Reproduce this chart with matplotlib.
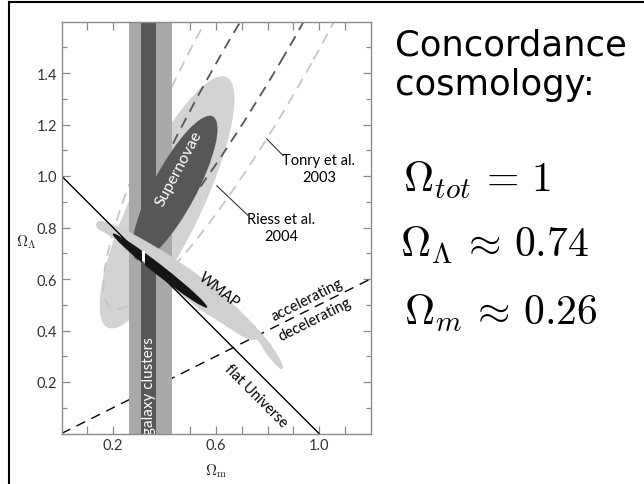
import numpy as np
import matplotlib
matplotlib.use("Agg")
import matplotlib.pyplot as plt
from matplotlib.patches import Ellipse, Polygon, Rectangle
from matplotlib.lines import Line2D

plt.rcParams['mathtext.fontset'] = 'cm'

# ---------------- data ----------------
# galaxy-cluster constraint on Omega_m (outer / inner bands)
cluster_outer = [0.263, 0.428]
cluster_inner = [0.309, 0.366]

# Supernovae confidence ellipses: centre, (full major, full minor), angle
sn_outer_center = (0.41, 0.898)
sn_outer_axes = (1.077, 0.273)
sn_outer_angle = 64.6
sn_inner_center = (0.44, 0.953)
sn_inner_axes = (0.63, 0.17)
sn_inner_angle = 62.0

# Riess et al. 2004 (dark dashed) and Tonry et al. 2003 (light dashed) contours
riess_center = (0.76, 1.50)
riess_axes = (1.90, 0.214)
riess_angle = 59.5
tonry_center = (0.787, 1.56)
tonry_axes = (2.45, 0.44)
tonry_angle = 61.0

# WMAP outer region (outline) and inner region
wmap_x = [0.133, 0.145, 0.175, 0.250, 0.300, 0.400, 0.500, 0.600, 0.680, 0.750, 0.810,
          0.845, 0.862, 0.852, 0.830, 0.795, 0.775, 0.760, 0.735, 0.700, 0.620, 0.550,
          0.450, 0.380, 0.300, 0.220, 0.170, 0.140]
wmap_y = [0.812, 0.826, 0.822, 0.790, 0.763, 0.705, 0.638, 0.562, 0.490, 0.420, 0.350,
          0.295, 0.258, 0.248, 0.268, 0.310, 0.345, 0.365, 0.362, 0.378, 0.430, 0.473,
          0.550, 0.610, 0.682, 0.745, 0.778, 0.795]
wmap_inner_center = (0.3825, 0.6325)
wmap_inner_axes = (0.465, 0.040)
wmap_inner_angle = -38.0
wmap_gap = [0.311, 0.324]

# reference lines
flat_x = [0.0, 1.0]
flat_y = [1.0, 0.0]          # Omega_m + Omega_L = 1
accel_x = [0.0, 1.2]
accel_y = [0.0, 0.6]         # Omega_L = Omega_m / 2

x_ticks = [0.1, 0.2, 0.3, 0.4, 0.5, 0.6, 0.7, 0.8, 0.9, 1.0, 1.1]
x_ticklabels = ['', '0.2', '', '', '', '0.6', '', '', '', '1.0', '']
y_major = [0.2, 0.4, 0.6, 0.8, 1.0, 1.2, 1.4]
y_minor = [0.1, 0.3, 0.5, 0.7, 0.9, 1.1, 1.3, 1.5]

# ---------------- figure ----------------
W, H = 644, 485
fig = plt.figure(figsize=(W / 100, H / 100), dpi=100)
ax = fig.add_axes([61.5 / W, 50.5 / H, 309 / W, 412 / H])
ax.set_xlim(0, 1.2)
ax.set_ylim(0, 1.6)

lab_font = ['Lato', 'DejaVu Sans']

LIGHT = '#d3d3d3'
BAND_L = '#a9a9a9'
DARK = '#575757'

# Supernovae outer (light)
ax.add_patch(Ellipse(sn_outer_center, *sn_outer_axes, angle=sn_outer_angle,
                     facecolor=LIGHT, edgecolor='none', zorder=1))
# Tonry contour (light dashed)
ax.add_patch(Ellipse(tonry_center, *tonry_axes, angle=tonry_angle, facecolor='none',
                     edgecolor='#c6c6c6', lw=1.3, linestyle=(0, (6, 4)), zorder=1.5))
# Riess contour (dark dashed)
ax.add_patch(Ellipse(riess_center, *riess_axes, angle=riess_angle, facecolor='none',
                     edgecolor='#555555', lw=1.3, linestyle=(0, (6, 4)), zorder=2))
# galaxy cluster bands
ax.axvspan(*cluster_outer, color=BAND_L, lw=0, zorder=3)
ax.axvspan(*cluster_inner, color=DARK, lw=0, zorder=3.1)
# Supernovae inner (dark)
ax.add_patch(Ellipse(sn_inner_center, *sn_inner_axes, angle=sn_inner_angle,
                     facecolor=DARK, edgecolor='none', zorder=4))
# WMAP outer
ax.add_patch(Polygon(np.column_stack([wmap_x, wmap_y]), closed=True,
                     facecolor='#d0d0d0', edgecolor='none', zorder=5))
# reference lines
ax.plot(flat_x, flat_y, color='black', lw=1.0, zorder=6)
ax.plot(accel_x, accel_y, color='black', lw=1.0, linestyle=(0, (7, 5)), zorder=2.5)
# WMAP inner (two pieces separated by a small gap)
for clip in [Rectangle((0, 0), wmap_gap[0], 1.6, transform=ax.transData),
             Rectangle((wmap_gap[1], 0), 1.2 - wmap_gap[1], 1.6, transform=ax.transData)]:
    e = Ellipse(wmap_inner_center, *wmap_inner_axes, angle=wmap_inner_angle,
                facecolor='#151515', edgecolor='none', zorder=7)
    ax.add_patch(e)
    e.set_clip_path(clip)
ax.add_patch(Rectangle((wmap_gap[0], 0.668), wmap_gap[1] - wmap_gap[0], 0.04,
                       facecolor='white', edgecolor='none', zorder=7.5))

# labels inside the plot
ax.text(0.455, 1.03, 'Supernovae', rotation=62, color='white', fontsize=11.5,
        ha='center', va='center', family=lab_font, zorder=8)
ax.text(0.338, 0.19, 'galaxy clusters', rotation=90, color='white', fontsize=11,
        ha='center', va='center', family=lab_font, zorder=8)
ax.text(0.61, 0.56, 'WMAP', rotation=-38, color='black', fontsize=10.5,
        ha='center', va='center', family=lab_font, zorder=8)
ax.text(0.955, 0.52, 'accelerating', rotation=26.6, color='black', fontsize=10.5,
        ha='center', va='center', family=lab_font, zorder=8, rotation_mode='anchor')
ax.text(0.985, 0.445, 'decelerating', rotation=26.6, color='black', fontsize=10.5,
        ha='center', va='center', family=lab_font, zorder=8, rotation_mode='anchor')
ax.text(0.755, 0.15, 'flat Universe', rotation=-45, color='black', fontsize=10.5,
        ha='center', va='center', family=lab_font, zorder=8, rotation_mode='anchor')
ax.text(1.0, 1.03, 'Tonry et al.\n2003', color='black', fontsize=10.5, ha='center',
        va='center', family=lab_font, linespacing=1.25, zorder=8)
ax.text(0.852, 0.80, 'Riess et al.\n2004', color='black', fontsize=10.5, ha='center',
        va='center', family=lab_font, linespacing=1.25, zorder=8)
ax.plot([0.797, 0.861], [1.144, 1.079], color='#333333', lw=0.8, zorder=8)
ax.plot([0.603, 0.725], [0.962, 0.846], color='#333333', lw=0.8, zorder=8)

# axes styling
for s in ax.spines.values():
    s.set_color('#8a8a8a')
    s.set_linewidth(1.0)
    s.set_zorder(9)
ax.set_xticks(x_ticks)
ax.set_xticklabels(x_ticklabels)
ax.set_yticks(y_major)
ax.set_yticklabels([f'{v:.1f}' for v in y_major])
ax.set_yticks(y_minor, minor=True)
ax.tick_params(which='major', direction='in', length=5.5, width=0.9, color='#8a8a8a',
               top=True, right=True, labelsize=10.5, labelcolor='#333333', pad=3)
ax.tick_params(which='minor', direction='in', length=3.5, width=0.9, color='#8a8a8a',
               top=False, right=True, left=True)
ax.tick_params(axis='y', which='major', length=6)
for lbl in ax.get_xticklabels() + ax.get_yticklabels():
    lbl.set_family(lab_font)
ax.set_xlabel(r'$\Omega_\mathrm{m}$', fontsize=11, color='#222222', labelpad=7)
ax.text(-0.135, 0.745, r'$\Omega_\Lambda$', fontsize=11, color='#222222',
        ha='center', va='center', transform=ax.transData, clip_on=False)

# right-hand text
fig.text(395 / W, 1 - 56 / H, 'Concordance', fontsize=25.5, family='DejaVu Sans',
         color='black', va='baseline', ha='left')
fig.text(395 / W, 1 - 95 / H, 'cosmology:', fontsize=25.5, family='DejaVu Sans',
         color='black', va='baseline', ha='left')
fig.text(403 / W, 1 - 192 / H, r'$\Omega_{tot}\,=\,1$', fontsize=30, va='baseline', ha='left')
fig.text(400 / W, 1 - 257 / H, r'$\Omega_\Lambda\,\approx\,0.74$', fontsize=30,
         va='baseline', ha='left')
fig.text(404 / W, 1 - 325 / H, r'$\Omega_m\,\approx\,0.26$', fontsize=30,
         va='baseline', ha='left')

# slide border (top and left)
fig.add_artist(Line2D([9 / W, 9 / W], [0, 1 - 3 / H], transform=fig.transFigure,
                      color='black', lw=1.5))
fig.add_artist(Line2D([9 / W, 1], [1 - 3 / H, 1 - 3 / H], transform=fig.transFigure,
                      color='black', lw=1.5))

fig.savefig('out.png', dpi=100)
